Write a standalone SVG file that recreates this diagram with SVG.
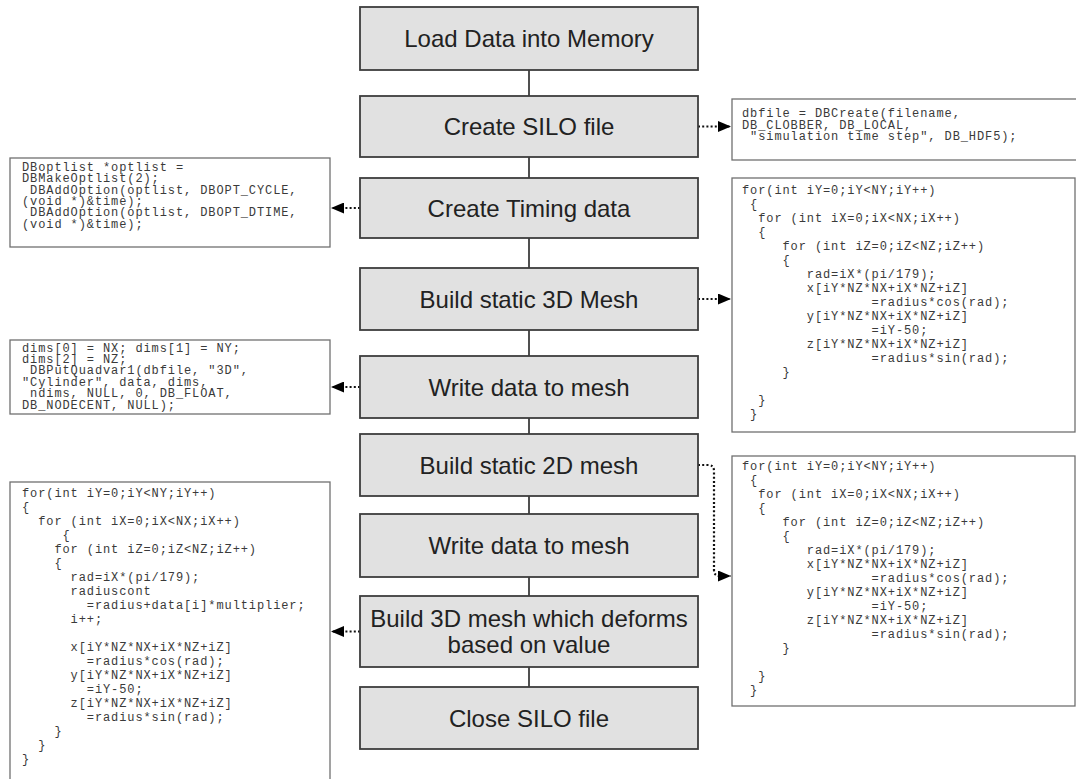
<svg xmlns="http://www.w3.org/2000/svg" width="1076" height="779" viewBox="0 0 1076 779">
  <defs>
    <style>
      .step rect { fill: #e1e1e1; stroke: #3d3d3d; stroke-width: 1.8; }
      .step text { font-family: "Liberation Sans", Arial, sans-serif; font-size: 24px; fill: #222; text-anchor: middle; }
      .code rect { fill: #ffffff; stroke: #707070; stroke-width: 1.3; }
      .code text { font-family: "Liberation Mono", "Courier New", monospace; font-size: 12px; letter-spacing: 0.9px; fill: #3a3a3a; white-space: pre; }
      .spine { stroke: #3d3d3d; stroke-width: 1.8; fill: none; }
      .link { stroke: #111; stroke-width: 2.2; stroke-dasharray: 2 2.2; fill: none; marker-end: url(#head); }
    </style>
    <marker id="head" markerUnits="userSpaceOnUse" markerWidth="13" markerHeight="11" refX="13" refY="5.5" orient="auto">
      <path d="M0,0 L13,5.5 L0,11 Z" fill="#000"/>
    </marker>
  </defs>
  <rect width="1076" height="779" fill="#ffffff"/>

  <!-- connectors -->
  <g id="connectors">
    <path class="spine" d="M529,70 V687"/>
    <path class="link" d="M698,126.5 H731"/>
    <path class="link" d="M360,208 H331"/>
    <path class="link" d="M698,299 H731"/>
    <path class="link" d="M360,387 H331"/>
    <path class="link" d="M698,465 H708 Q714,465 714,471 V570 Q714,576 720,576 H731"/>
    <path class="link" d="M360,631.5 H331"/>
  </g>

  <!-- process steps -->
  <g id="step-load" class="step">
    <rect x="360" y="7" width="338" height="63"/>
    <text x="529" y="47">Load Data into Memory</text>
  </g>
  <g id="step-create-silo" class="step">
    <rect x="360" y="96" width="338" height="61"/>
    <text x="529" y="135">Create SILO file</text>
  </g>
  <g id="step-timing" class="step">
    <rect x="360" y="178" width="338" height="60"/>
    <text x="529" y="216.5">Create Timing data</text>
  </g>
  <g id="step-static-3d" class="step">
    <rect x="360" y="268" width="338" height="62"/>
    <text x="529" y="307.5">Build static 3D Mesh</text>
  </g>
  <g id="step-write-1" class="step">
    <rect x="360" y="356" width="338" height="62"/>
    <text x="529" y="395.5">Write data to mesh</text>
  </g>
  <g id="step-static-2d" class="step">
    <rect x="360" y="434" width="338" height="62"/>
    <text x="529" y="473.5">Build static 2D mesh</text>
  </g>
  <g id="step-write-2" class="step">
    <rect x="360" y="514" width="338" height="63"/>
    <text x="529" y="554">Write data to mesh</text>
  </g>
  <g id="step-deform-3d" class="step">
    <rect x="360" y="596" width="338" height="71"/>
    <text x="529" y="626.5">Build 3D mesh which deforms</text>
    <text x="529" y="652.5">based on value</text>
  </g>
  <g id="step-close" class="step">
    <rect x="360" y="687" width="338" height="62"/>
    <text x="529" y="726.5">Close SILO file</text>
  </g>

  <!-- code snippets -->
  <g id="code-dbcreate" class="code">
    <rect x="732" y="99" width="350" height="61"/>
    <text x="742" y="117">dbfile = DBCreate(filename,</text>
    <text x="742" y="128.5">DB_CLOBBER, DB_LOCAL,</text>
    <text x="742" y="140"> "simulation time step", DB_HDF5);</text>
  </g>
  <g id="code-optlist" class="code">
    <rect x="10" y="158" width="320" height="89"/>
    <text x="22" y="171">DBoptlist *optlist =</text>
    <text x="22" y="182.3">DBMakeOptlist(2);</text>
    <text x="22" y="193.6"> DBAddOption(optlist, DBOPT_CYCLE,</text>
    <text x="22" y="204.9">(void *)&amp;time);</text>
    <text x="22" y="216.2"> DBAddOption(optlist, DBOPT_DTIME,</text>
    <text x="22" y="227.5">(void *)&amp;time);</text>
  </g>
  <g id="code-static-3d" class="code">
    <rect x="732" y="178" width="343" height="254"/>
    <text x="742" y="194">for(int iY=0;iY&lt;NY;iY++)</text>
    <text x="742" y="208"> {</text>
    <text x="742" y="222">  for (int iX=0;iX&lt;NX;iX++)</text>
    <text x="742" y="236">  {</text>
    <text x="742" y="250">     for (int iZ=0;iZ&lt;NZ;iZ++)</text>
    <text x="742" y="264">     {</text>
    <text x="742" y="278">        rad=iX*(pi/179);</text>
    <text x="742" y="292">        x[iY*NZ*NX+iX*NZ+iZ]</text>
    <text x="742" y="306">                =radius*cos(rad);</text>
    <text x="742" y="320">        y[iY*NZ*NX+iX*NZ+iZ]</text>
    <text x="742" y="334">                =iY-50;</text>
    <text x="742" y="348">        z[iY*NZ*NX+iX*NZ+iZ]</text>
    <text x="742" y="362">                =radius*sin(rad);</text>
    <text x="742" y="376">     }</text>
    <text x="742" y="404">  }</text>
    <text x="742" y="418"> }</text>
  </g>
  <g id="code-quadvar" class="code">
    <rect x="10" y="340" width="320" height="74"/>
    <text x="22" y="351.5">dims[0] = NX; dims[1] = NY;</text>
    <text x="22" y="362.9">dims[2] = NZ;</text>
    <text x="22" y="374.3"> DBPutQuadvar1(dbfile, "3D",</text>
    <text x="22" y="385.7">"Cylinder", data, dims,</text>
    <text x="22" y="397.1"> ndims, NULL, 0, DB_FLOAT,</text>
    <text x="22" y="408.5">DB_NODECENT, NULL);</text>
  </g>
  <g id="code-static-2d" class="code">
    <rect x="732" y="456" width="343" height="250"/>
    <text x="742" y="470">for(int iY=0;iY&lt;NY;iY++)</text>
    <text x="742" y="484"> {</text>
    <text x="742" y="498">  for (int iX=0;iX&lt;NX;iX++)</text>
    <text x="742" y="512">  {</text>
    <text x="742" y="526">     for (int iZ=0;iZ&lt;NZ;iZ++)</text>
    <text x="742" y="540">     {</text>
    <text x="742" y="554">        rad=iX*(pi/179);</text>
    <text x="742" y="568">        x[iY*NZ*NX+iX*NZ+iZ]</text>
    <text x="742" y="582">                =radius*cos(rad);</text>
    <text x="742" y="596">        y[iY*NZ*NX+iX*NZ+iZ]</text>
    <text x="742" y="610">                =iY-50;</text>
    <text x="742" y="624">        z[iY*NZ*NX+iX*NZ+iZ]</text>
    <text x="742" y="638">                =radius*sin(rad);</text>
    <text x="742" y="652">     }</text>
    <text x="742" y="680">  }</text>
    <text x="742" y="694"> }</text>
  </g>
  <g id="code-deform-3d" class="code">
    <rect x="10" y="482" width="320" height="310"/>
    <text x="22" y="497">for(int iY=0;iY&lt;NY;iY++)</text>
    <text x="22" y="511">{</text>
    <text x="22" y="525">  for (int iX=0;iX&lt;NX;iX++)</text>
    <text x="22" y="539">     {</text>
    <text x="22" y="553">    for (int iZ=0;iZ&lt;NZ;iZ++)</text>
    <text x="22" y="567">    {</text>
    <text x="22" y="581">      rad=iX*(pi/179);</text>
    <text x="22" y="595">      radiuscont</text>
    <text x="22" y="609">        =radius+data[i]*multiplier;</text>
    <text x="22" y="623">      i++;</text>
    <text x="22" y="651">      x[iY*NZ*NX+iX*NZ+iZ]</text>
    <text x="22" y="665">        =radius*cos(rad);</text>
    <text x="22" y="679">      y[iY*NZ*NX+iX*NZ+iZ]</text>
    <text x="22" y="693">        =iY-50;</text>
    <text x="22" y="707">      z[iY*NZ*NX+iX*NZ+iZ]</text>
    <text x="22" y="721">        =radius*sin(rad);</text>
    <text x="22" y="735">    }</text>
    <text x="22" y="749">  }</text>
    <text x="22" y="763">}</text>
  </g>
</svg>
